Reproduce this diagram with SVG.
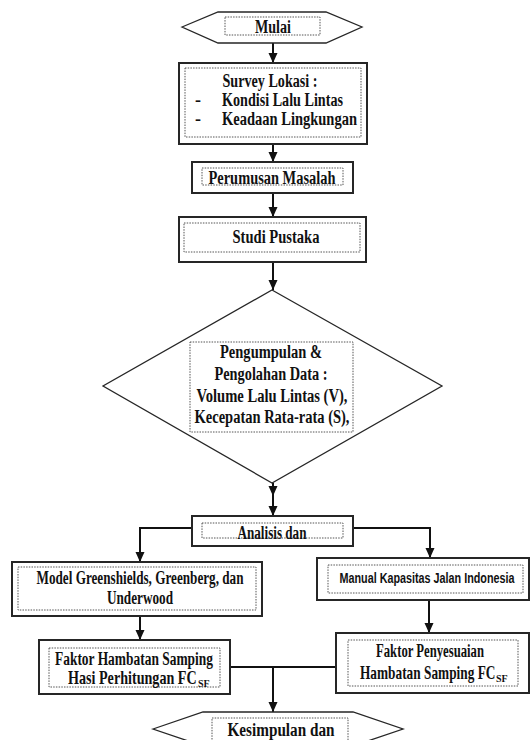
<svg xmlns="http://www.w3.org/2000/svg" width="532" height="740" viewBox="0 0 532 740">
<defs>
<style>
.box{fill:#fff;stroke:#262626;stroke-width:2}
.shape{fill:#fff;stroke:#262626;stroke-width:1.3}
.dot{fill:none;stroke:#555;stroke-width:1;stroke-dasharray:1.5 1.2}
.t{font-family:"Liberation Serif","Times New Roman",serif;font-weight:bold;font-size:18px;fill:#111;text-anchor:middle}
.ts{text-anchor:start}
.sub{font-family:"Liberation Serif","Times New Roman",serif;font-weight:bold;font-size:10px;fill:#111}
.sans{font-family:"Liberation Sans",Arial,sans-serif;font-weight:bold;font-size:15px;fill:#111;text-anchor:middle}
.conn{fill:none;stroke:#111;stroke-width:2}
</style>
<marker id="arr" markerUnits="userSpaceOnUse" markerWidth="10" markerHeight="10" refX="10" refY="4.5" orient="auto">
<path d="M0,0 L10,4.5 L0,9 z" fill="#111"/>
</marker>
</defs>
<rect width="532" height="740" fill="#fff"/>

<g id="connectors">
<line class="conn" x1="273" y1="43" x2="273" y2="63" marker-end="url(#arr)"/>
<line class="conn" x1="273" y1="144" x2="273" y2="162" marker-end="url(#arr)"/>
<line class="conn" x1="273" y1="193" x2="273" y2="217" marker-end="url(#arr)"/>
<line class="conn" x1="273" y1="262" x2="273" y2="290" marker-end="url(#arr)"/>
<line class="conn" x1="273" y1="483" x2="273" y2="496" marker-end="url(#arr)"/>
<line class="conn" x1="273" y1="494" x2="273" y2="516" marker-end="url(#arr)"/>
<polyline class="conn" points="192,528 140,528 140,562" marker-end="url(#arr)"/>
<polyline class="conn" points="353,528 430,528 430,558" marker-end="url(#arr)"/>
<line class="conn" x1="140" y1="616" x2="140" y2="640" marker-end="url(#arr)"/>
<line class="conn" x1="429" y1="600" x2="429" y2="633" marker-end="url(#arr)"/>
<line class="conn" x1="230" y1="667" x2="336" y2="667"/>
<line class="conn" x1="273" y1="667" x2="273" y2="712" marker-end="url(#arr)"/>
</g>

<g id="mulai">
<polygon class="shape" points="182,27 218,12 326,12 362,27 326,43 218,43"/>
<rect class="dot" x="225" y="17" width="95" height="18"/>
<text class="t" x="273" y="33" textLength="36" lengthAdjust="spacingAndGlyphs">Mulai</text>
</g>

<g id="survey">
<rect class="box" x="179" y="63" width="188" height="81"/>
<rect class="dot" x="185" y="68" width="176" height="69"/>
<text class="t" x="270" y="87" textLength="95" lengthAdjust="spacingAndGlyphs">Survey Lokasi :</text>
<text class="t ts" x="195" y="106">-</text>
<text class="t ts" x="222" y="106" textLength="121" lengthAdjust="spacingAndGlyphs">Kondisi Lalu Lintas</text>
<text class="t ts" x="195" y="125">-</text>
<text class="t ts" x="222" y="125" textLength="135" lengthAdjust="spacingAndGlyphs">Keadaan Lingkungan</text>
</g>

<g id="perumusan">
<rect class="box" x="192" y="162" width="161" height="31"/>
<rect class="dot" x="202" y="168" width="141" height="17"/>
<text class="t" x="272" y="184" textLength="127" lengthAdjust="spacingAndGlyphs">Perumusan Masalah</text>
</g>

<g id="studi">
<rect class="box" x="179" y="217" width="187" height="45"/>
<rect class="dot" x="184" y="223" width="176" height="29"/>
<text class="t" x="276" y="243" textLength="87" lengthAdjust="spacingAndGlyphs">Studi Pustaka</text>
</g>

<g id="pengumpulan">
<polygon class="shape" points="272,290 442,386 272,483 103,386"/>
<rect class="dot" x="190" y="342" width="163" height="90"/>
<text class="t" x="271" y="358" textLength="102" lengthAdjust="spacingAndGlyphs">Pengumpulan &amp;</text>
<text class="t" x="271" y="380" textLength="113" lengthAdjust="spacingAndGlyphs">Pengolahan Data :</text>
<text class="t" x="272" y="402" textLength="151" lengthAdjust="spacingAndGlyphs">Volume Lalu Lintas (V),</text>
<text class="t" x="272" y="423" textLength="155" lengthAdjust="spacingAndGlyphs">Kecepatan Rata-rata (S),</text>
</g>

<g id="analisis">
<rect class="box" x="192" y="516" width="161" height="30"/>
<rect class="dot" x="202" y="523" width="141" height="15"/>
<text class="t" x="272" y="539" textLength="69" lengthAdjust="spacingAndGlyphs">Analisis dan</text>
</g>

<g id="model">
<rect class="box" x="12" y="562" width="250" height="54"/>
<rect class="dot" x="18" y="567" width="238" height="43"/>
<text class="t" x="140" y="584" textLength="207" lengthAdjust="spacingAndGlyphs">Model Greenshields, Greenberg, dan</text>
<text class="t" x="140" y="604" textLength="66" lengthAdjust="spacingAndGlyphs">Underwood</text>
</g>

<g id="mkji">
<rect class="box" x="317" y="558" width="212" height="42"/>
<rect class="dot" x="328" y="565" width="195" height="28"/>
<text class="sans" transform="translate(427,583) scale(0.72,1)" x="0" y="0">Manual Kapasitas Jalan Indonesia</text>
</g>

<g id="faktor-hambatan">
<rect class="box" x="39" y="640" width="191" height="54"/>
<rect class="dot" x="49" y="648" width="171" height="39"/>
<text class="t" x="134" y="665" textLength="158" lengthAdjust="spacingAndGlyphs">Faktor Hambatan Samping</text>
<text class="t ts" transform="translate(68,684) scale(0.785,1)" x="0" y="0">Hasi Perhitungan FC</text>
<text class="sub" x="198" y="687">SF</text>
</g>

<g id="faktor-penyesuaian">
<rect class="box" x="336" y="633" width="193" height="60"/>
<rect class="dot" x="348" y="640" width="170" height="46"/>
<text class="t" x="430" y="657" textLength="108" lengthAdjust="spacingAndGlyphs">Faktor Penyesuaian</text>
<text class="t ts" transform="translate(360,679) scale(0.74,1)" x="0" y="0">Hambatan Samping FC</text>
<text class="sub" x="496" y="682">SF</text>
</g>

<g id="kesimpulan">
<polygon class="shape" points="153,729 203,712 353,712 403,729 353,746 203,746"/>
<rect class="dot" x="212" y="718" width="136" height="30"/>
<text class="t" x="281" y="736" textLength="107" lengthAdjust="spacingAndGlyphs">Kesimpulan dan</text>
</g>
</svg>
